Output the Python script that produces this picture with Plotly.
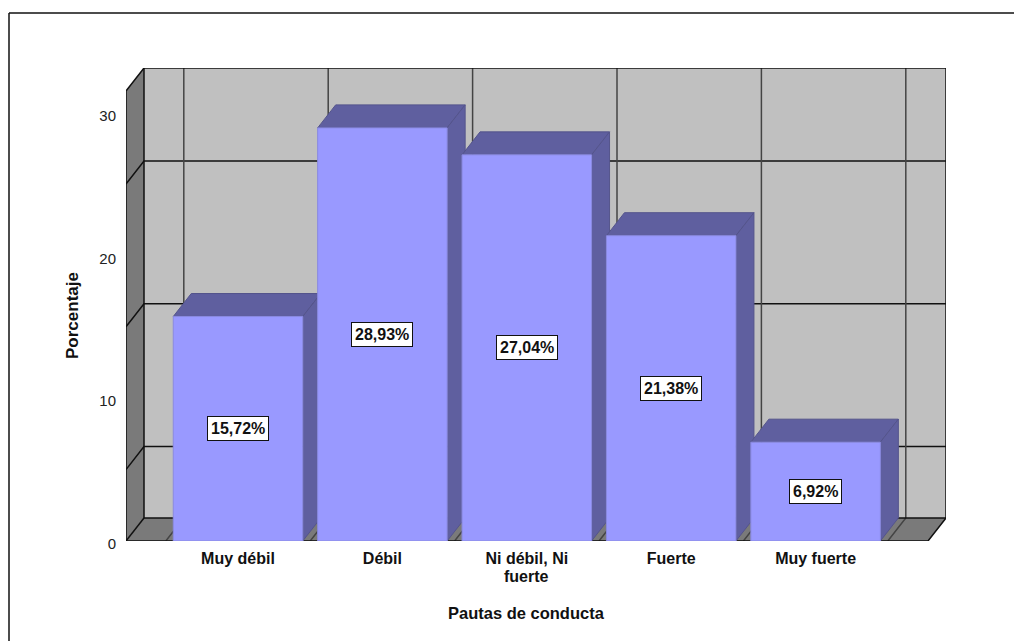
import plotly.graph_objects as go

categories = ["Muy débil", "Débil", "Ni débil, Ni fuerte", "Fuerte", "Muy fuerte"]
tick_line1 = ["Muy débil", "Débil", "Ni débil, Ni", "Fuerte", "Muy fuerte"]
tick_line2 = ["", "", "fuerte", "", ""]
values = [15.72, 28.93, 27.04, 21.38, 6.92]
value_labels = ["15,72%", "28,93%", "27,04%", "21,38%", "6,92%"]
y_ticks = [0, 10, 20, 30]
y_minor_grid = [5, 15, 25]
x_title = "Pautas de conducta"
y_title = "Porcentaje"

W, H = 1014, 641
L, R, T, B = 126, 946, 68, 541
PX_X = 144.4
PX_Y = 14.28
X_C0 = 238
DX = 18 / PX_X
DY = 23 / PX_Y
BAR_W = 129.5 / PX_X
x_range = [(L - X_C0) / PX_X, (R - X_C0) / PX_X]
y_range = [0, (B - T) / PX_Y]
x_lo, x_hi = x_range[0], x_range[1] - DX
y_top = y_range[1] - DY

WALL = "#C0C0C0"
SIDE = "#7A7A7A"
FRONT = "#9999FF"
SHADE = "#5F5F9F"
INK = "#111111"
FONT = "Liberation Sans"

fig = go.Figure()


def poly(xs, ys, fill, line="rgba(0,0,0,0)", width=0):
    fig.add_trace(go.Scatter(x=xs + xs[:1], y=ys + ys[:1], mode="lines", fill="toself",
                             fillcolor=fill, line=dict(color=line, width=width),
                             hoverinfo="skip", showlegend=False))


def seg(xs, ys, color=INK, width=1.5):
    fig.add_trace(go.Scatter(x=xs, y=ys, mode="lines", line=dict(color=color, width=width),
                             hoverinfo="skip", showlegend=False))


# back wall, left wall, floor
poly([x_lo + DX, x_hi + DX, x_hi + DX, x_lo + DX], [DY, DY, y_top + DY, y_top + DY], WALL)
poly([x_lo, x_lo + DX, x_lo + DX, x_lo], [0, DY, y_top + DY, y_top], SIDE)
poly([x_lo, x_hi, x_hi + DX, x_lo + DX], [0, 0, DY, DY], SIDE)

# grid on the walls and floor
for v in y_minor_grid:
    seg([x_lo, x_lo + DX, x_hi + DX], [v, v + DY, v + DY])
for i in range(len(categories) + 1):
    b = i - 0.5
    seg([b, b + DX, b + DX], [0, DY, y_top + DY], color="#444444")

# frame of the walls
seg([x_lo, x_lo, x_lo + DX, x_hi + DX, x_hi + DX, x_hi, x_lo],
    [0, y_top, y_top + DY, y_top + DY, DY, 0, 0], width=1.5)
seg([x_lo + DX, x_lo + DX, x_hi + DX], [y_top + DY, DY, DY], width=1.5)
seg([x_lo, x_lo + DX], [0, DY], width=1.5)

# depth faces of the bars, left to right
EDGE = "#54548C"
for i, v in enumerate(values):
    a, b = i - BAR_W / 2, i + BAR_W / 2
    poly([a, b, b + DX, a + DX], [v, v, v + DY, v + DY], SHADE, EDGE, 1)
    poly([b, b + DX, b + DX, b], [0, DY, v + DY, v], SHADE, EDGE, 1)

# front faces of the bars, on an overlaid axis pair
fig.add_trace(go.Bar(x=categories, y=values, width=BAR_W, xaxis="x2", yaxis="y2",
                     marker=dict(color=FRONT, line=dict(color="#8A8AE0", width=1)),
                     hoverinfo="skip", showlegend=False))

px = lambda x: (x - L) / (R - L)
py = lambda y: (B - y) / (B - T)

annotations = [
    dict(x=c, y=v / 2, xref="x2", yref="y2", text=f"<b>{t}</b>", showarrow=False,
         bgcolor="#FFFFFF", bordercolor="#111111", borderwidth=1, borderpad=3,
         font=dict(family=FONT, size=16, color="#111111"))
    for c, v, t in zip(categories, values, value_labels)
]
annotations += [
    dict(x=c, y=py(576), xref="x2", yref="paper", text=f"<b>{t}</b>", showarrow=False,
         xanchor="center", yanchor="middle", font=dict(family=FONT, size=16, color="#111111"))
    for c, t in zip(categories, tick_line2) if t
]
annotations.append(dict(x=px(526), y=py(613), xref="paper", yref="paper",
                        text=f"<b>{x_title}</b>", showarrow=False, xanchor="center", yanchor="middle",
                        font=dict(family=FONT, size=16.5, color="#111111")))
annotations.append(dict(x=px(72), y=py(316), xref="paper", yref="paper",
                        text=f"<b>{y_title}</b>", showarrow=False, textangle=-90,
                        xanchor="center", yanchor="middle",
                        font=dict(family=FONT, size=17, color="#111111")))

# outer frame: top and left edges only
shapes = [
    dict(type="line", xref="paper", yref="paper", x0=px(9), x1=px(W), y0=py(13), y1=py(13),
         line=dict(color="#111111", width=1.5)),
    dict(type="line", xref="paper", yref="paper", x0=px(9), x1=px(9), y0=py(13), y1=py(H),
         line=dict(color="#111111", width=1.5)),
]

fig.update_layout(
    width=W, height=H,
    margin=dict(l=L, r=W - R, t=T, b=H - B, pad=0),
    paper_bgcolor="#FFFFFF", plot_bgcolor="#FFFFFF",
    showlegend=False, annotations=annotations, shapes=shapes,
    font=dict(family=FONT, color="#111111"),
    xaxis=dict(range=x_range, showgrid=False, zeroline=False, showticklabels=False, ticks=""),
    yaxis=dict(range=y_range, showgrid=False, zeroline=False, tickvals=y_ticks, ticks="",
               ticklabelstandoff=9, ticklabelshift=3, tickfont=dict(family=FONT, size=15, color="#222222")),
    xaxis2=dict(overlaying="x", type="category", range=x_range, categoryorder="array", categoryarray=categories,
                tickvals=categories, ticktext=tick_line1,
                showgrid=False, zeroline=False, ticks="outside", ticklen=3, tickcolor="rgba(0,0,0,0)",
                tickfont=dict(family=FONT, size=16, color="#111111", weight="bold")),
    yaxis2=dict(overlaying="y", range=y_range, showgrid=False, zeroline=False, showticklabels=False, ticks=""),
)

fig.write_html("out.html", config={"displayModeBar": False},
               post_script="document.body.style.margin='0';")
